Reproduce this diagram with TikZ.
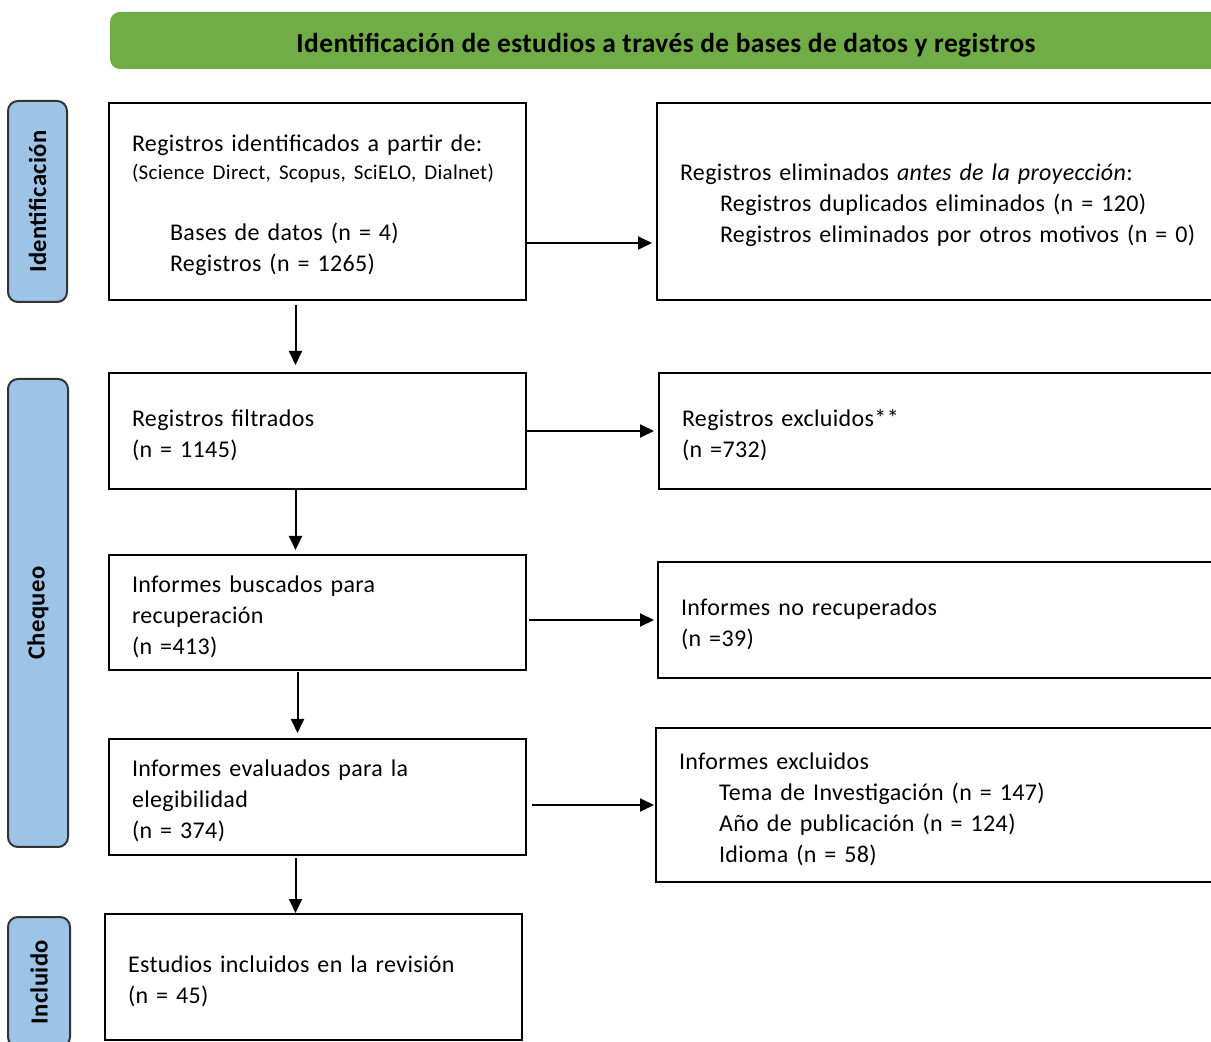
\documentclass[tikz,border=0pt]{standalone}
\usepackage{fontspec}
\setmainfont{Carlito}[LetterSpace=1.5]
\usetikzlibrary{positioning,arrows.meta}
\definecolor{verdeprisma}{HTML}{70AD47}
\definecolor{azulfase}{HTML}{9DC3E6}

\begin{document}
\begin{tikzpicture}[x=0.5pt, y=-0.5pt,
  caja/.style={draw, line width=1pt, outer sep=0pt, align=left, inner xsep=11.5pt, inner ysep=0pt,
               text height=12.5pt, font=\fontsize{12}{15.5}\selectfont},
  izq/.style={caja, text width=185.5pt},
  der/.style={caja, text width=277pt},
  fase/.style={draw=black!80, line width=1pt, fill=azulfase, rounded corners=5pt,
               rotate=90, font=\bfseries\fontsize{12.3}{14}\selectfont},
  flecha/.style={-{Triangle[length=7pt,width=6.5pt]}, line width=1pt}]
  \clip (0,0) rectangle (1211,1042);
  \node[fill=verdeprisma, rounded corners=5pt, minimum width=556pt, minimum height=28.5pt,
        text height=12.3pt, text depth=0pt,
        font=\bfseries\fontsize{13.7}{16}\selectfont] (titulo) at (666,40.5)
        {Identificación de estudios a través de bases de datos y registros};
  % fases
  \node[fase, minimum width=100.5pt, minimum height=29.5pt] (fIdent) at (37.5,201.5) {Identificación};
  \node[fase, minimum width=234pt, minimum height=30pt] (fCheq) at (38,613) {Chequeo};
  \node[fase, minimum width=65pt, minimum height=31pt] (fIncl) at (39,982) {Incluido};
  % columna principal
  \node[izq, minimum height=98.5pt] (ident) at (317.5,201.5)
        {Registros identificados a partir de:\\[-1.5pt]
         {\fontsize{10.5}{14}\selectfont (Science Direct, Scopus, SciELO, Dialnet)}\\[15pt]
         \hspace*{19pt}Bases de datos (n = 4)\\
         \hspace*{19pt}Registros (n = 1265)};
  \node[izq, minimum height=58pt, below=36.5pt of ident] (filt) {Registros filtrados\\(n = 1145)};
  \node[izq, minimum height=57.5pt, below=33pt of filt] (recup) {Informes buscados para\\recuperación\\(n =413)};
  \node[izq, minimum height=58pt, below=34.5pt of recup] (elig) {Informes evaluados para la\\elegibilidad\\(n = 374)};
  \node[izq, minimum height=63pt, below=29.5pt of elig, xshift=-2pt] (incl) {Estudios incluidos en la revisión\\(n = 45)};
  % columna derecha
  \node[der, minimum height=98.5pt, right=65.5pt of ident] (elim)
        {Registros eliminados \textit{antes de la proyección}:\\
         \hspace*{20pt}Registros duplicados eliminados (n = 120)\\
         \hspace*{20pt}Registros eliminados por otros motivos (n = 0)};
  \node[der, minimum height=58pt, right=66.5pt of filt] (excl) {Registros excluidos**\\(n =732)};
  \node[der, minimum height=58pt, right=66pt of recup, yshift=-3.75pt] (norec) {Informes no recuperados\\(n =39)};
  \node[der, minimum height=77pt, right=65pt of elig, yshift=-4pt] (excinf)
        {Informes excluidos\\
         \hspace*{20pt}Tema de Investigación (n = 147)\\
         \hspace*{20pt}Año de publicación (n = 124)\\
         \hspace*{20pt}Idioma (n = 58)};
  % flechas
  \draw[flecha, shorten >=2.5pt] ([yshift=-20.75pt]ident.east) -- ([yshift=-20.75pt]elim.west);
  \draw[flecha, shorten >=2.5pt] (filt.east) -- (filt.east -| excl.west);
  \draw[flecha, shorten <=1.5pt, shorten >=2pt] (recup.east |- norec.west) -- (norec.west);
  \draw[flecha, shorten <=3pt, shorten >=1pt] (elig.east |- excinf.west) -- (excinf.west);
  \draw[flecha, shorten <=2.5pt, shorten >=4pt] ([xshift=-11pt]ident.south) -- ([xshift=-11pt]filt.north);
  \draw[flecha, shorten <=0.5pt, shorten >=2.5pt] ([xshift=-11pt]filt.south) -- ([xshift=-11pt]recup.north);
  \draw[flecha, shorten <=1pt, shorten >=3pt] ([xshift=-10pt]recup.south) -- ([xshift=-10pt]elig.north);
  \draw[flecha, shorten <=1.5pt, shorten >=0.5pt] ([xshift=-11pt]elig.south) -- ([xshift=-11pt]elig.south |- incl.north);
\end{tikzpicture}
\end{document}
